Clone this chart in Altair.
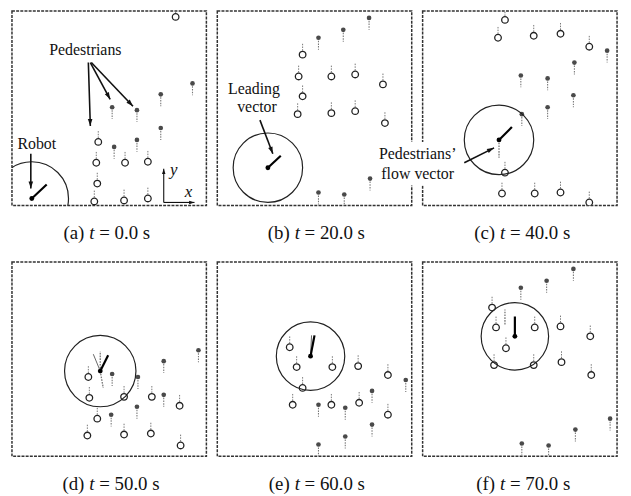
import altair as alt
import pandas as pd

W = 196
H = 196
SERIF = "Liberation Serif"

# ---------------- panel data (units: panel box = 196 x 196, y up) ----------------
# pedestrians walking +y (open circles) and -y (filled circles)
A_UP = [(165, 190), (87, 64), (85, 43), (114, 43), (137, 44), (86, 22), (83, 4), (113, 5), (137, 7)]
A_DOWN = [(182, 123), (150, 112), (101, 99), (126, 96), (150, 78), (126, 66), (103, 59)]
B_UP = [(86, 152), (82, 130), (115, 130), (139, 132), (167, 122), (86, 110), (81, 92), (115, 93), (139, 95), (169, 83)]
B_DOWN = [(153, 189), (127, 177), (102, 169), (154, 27), (102, 13), (128, 11)]
C_UP = [(83, 187), (76, 169), (112, 171), (139, 173), (168, 160), (83, 33), (80, 12), (113, 12), (139, 13), (168, 3)]
C_DOWN = [(186, 156), (153, 144), (99, 131), (126, 128), (152, 111), (126, 99), (100, 92)]
D_UP = [(77, 80), (78, 59), (113, 60), (141, 60), (169, 51), (86, 38), (76, 21), (113, 22), (140, 23), (170, 11)]
D_DOWN = [(188, 107), (153, 96), (101, 83), (127, 80), (153, 62), (126, 50), (100, 42)]
E_UP = [(73, 110), (80, 90), (116, 90), (142, 91), (172, 82), (86, 69), (76, 52), (115, 52), (143, 54), (172, 42)]
E_DOWN = [(190, 77), (156, 66), (102, 52), (129, 49), (156, 32), (129, 20), (102, 12)]
F_UP = [(70, 150), (74, 130), (113, 130), (139, 131), (169, 121), (84, 109), (72, 92), (112, 92), (140, 95), (170, 82)]
F_DOWN = [(152, 189), (125, 177), (99, 170), (189, 38), (154, 27), (100, 13), (127, 11)]

# robot position and sensing radius per panel
ROBOT = [(20, 7), (51, 38), (77, 66), (89, 86), (94, 101), (93, 121)]
SENSE_R = [37, 35, 35, 36, 34.5, 34]

# robot vectors (x, y, x2, y2, kind)
A_VEC = [(20, 7, 35, 21, "lead")]
B_VEC = [(51, 38, 64, 50, "lead")]
C_VEC = [(77, 66, 90, 79, "lead"), (77, 66, 77, 48, "flow")]
D_VEC = [(89, 86, 97, 102, "lead"), (89, 86, 82, 103, "other"), (89, 86, 89, 106, "flow"), (89, 86, 92, 69, "flow")]
E_VEC = [(94, 101, 98, 122, "lead"), (94, 101, 95, 122, "other")]
F_VEC = [(93, 121, 93, 141, "lead"), (83, 133, 83, 148, "flow")]

# annotations
A_TEXT = [(74, 157, "Pedestrians"), (25, 62, "Robot")]
A_ARROWS = [(77, 144, 79, 80), (79, 144, 99, 107), (80, 144, 122, 100), (19, 52, 19, 17)]
A_AXES = [(153, 3, 153, 37), (153, 3, 184, 3)]
A_AXLAB = [(163, 36, "y"), (178, 13, "x")]
B_TEXT = [(37, 117, "Leading"), (40, 99, "vector")]
B_ARROWS = [(43, 86, 56, 52)]
C_TEXT = [(-5, 52, "Pedestrians\u2019"), (-5, 32, "flow vector")]
C_ARROWS = [(42, 43, 72, 58)]
C_MASK = [(-48, 64, 38, 20)]

LETTERS = ["(a)", "(b)", "(c)", "(d)", "(e)", "(f)"]
TIMES = ["0.0", "20.0", "40.0", "50.0", "60.0", "70.0"]

ARROW_HEAD = "M0,0L-0.55,1.7L0.55,1.7Z"


def xq(f="x"):
    return alt.X(f"{f}:Q", scale=alt.Scale(domain=[0, W], nice=False, zero=False), axis=None)


def yq(f="y"):
    return alt.Y(f"{f}:Q", scale=alt.Scale(domain=[0, H], nice=False, zero=False), axis=None)


def arrow_layers(arrows, width=1.6, head=70):
    df = pd.DataFrame(arrows, columns=["x", "y", "x2", "y2"])
    base = alt.Chart(df)
    line = base.mark_rule(color="#111", strokeWidth=width).encode(
        x=xq(), y=yq(), x2=alt.X2("x2"), y2=alt.Y2("y2"))
    tip = base.transform_calculate(
        ang="(atan2(datum.x2 - datum.x, datum.y2 - datum.y) * 180 / PI + 360) % 360"
    ).mark_point(shape=ARROW_HEAD, filled=True, color="#111", size=head, opacity=1).encode(
        x=xq("x2"), y=yq("y2"), angle=alt.Angle("ang:Q", scale=None))
    return [line, tip]


def panel(i, up, down, vecs, texts=None, arrows=None, axes=None, axlab=None, mask=None):
    layers = []
    if mask:
        mdf = pd.DataFrame(mask, columns=["x", "y", "x2", "y2"])
        layers.append(alt.Chart(mdf).mark_rect(color="white", opacity=1).encode(
            x=xq(), x2=alt.X2("x2"), y=yq(), y2=alt.Y2("y2")))
    dup = pd.DataFrame(up, columns=["x", "y"])
    ddn = pd.DataFrame(down, columns=["x", "y"])
    layers.append(alt.Chart(dup).mark_rule(color="#777", strokeWidth=1, strokeDash=[1.5, 1.2],
                                           yOffset=-4, y2Offset=-12, clip=True).encode(
        x=xq(), y=yq(), y2=alt.Y2("y")))
    layers.append(alt.Chart(ddn).mark_rule(color="#777", strokeWidth=1.1, strokeDash=[1.5, 1.2],
                                           yOffset=3, y2Offset=12, clip=True).encode(
        x=xq(), y=yq(), y2=alt.Y2("y")))
    layers.append(alt.Chart(dup).mark_point(shape="circle", filled=True, fill="white", stroke="#222",
                                            strokeWidth=1.3, size=44, opacity=1, clip=True).encode(
        x=xq(), y=yq()))
    layers.append(alt.Chart(ddn).mark_point(shape="circle", filled=True, color="#4a4a4a",
                                            size=22, opacity=1, clip=True).encode(
        x=xq(), y=yq()))
    rdf = pd.DataFrame([ROBOT[i]], columns=["x", "y"])
    r = SENSE_R[i]
    layers.append(alt.Chart(rdf).mark_point(shape="circle", filled=False, stroke="#222", strokeWidth=1.2,
                                            size=(2 * r) ** 2, opacity=1, clip=True).encode(
        x=xq(), y=yq()))
    vdf = pd.DataFrame(vecs, columns=["x", "y", "x2", "y2", "kind"])
    styles = {
        "other": dict(color="#666", strokeWidth=1),
        "flow": dict(color="#777", strokeWidth=1.3, strokeDash=[1.6, 1.2]),
        "lead": dict(color="#000", strokeWidth=2.2),
    }
    for kind in ["other", "flow", "lead"]:
        sub = vdf[vdf["kind"] == kind]
        if len(sub):
            layers.append(alt.Chart(sub).mark_rule(**styles[kind]).encode(
                x=xq(), y=yq(), x2=alt.X2("x2"), y2=alt.Y2("y2")))
    layers.append(alt.Chart(rdf).mark_point(shape="circle", filled=True, color="#000",
                                            size=24, opacity=1).encode(x=xq(), y=yq()))
    if texts:
        tdf = pd.DataFrame(texts, columns=["x", "y", "label"])
        layers.append(alt.Chart(tdf).mark_text(font=SERIF, fontSize=16, color="#111").encode(
            x=xq(), y=yq(), text="label:N"))
    if arrows:
        layers += arrow_layers(arrows)
    if axes:
        layers += arrow_layers(axes, width=1.1, head=40)
    if axlab:
        ldf = pd.DataFrame(axlab, columns=["x", "y", "label"])
        layers.append(alt.Chart(ldf).mark_text(font=SERIF, fontSize=17, fontStyle="italic",
                                               color="#111").encode(x=xq(), y=yq(), text="label:N"))
    # caption "(a) t = 0.0 s"
    cdf = pd.DataFrame({"lab": [LETTERS[i]], "t": ["t"], "rest": ["=  " + TIMES[i] + " s"]})
    cx = W / 2
    L = cx - 25
    cap = alt.Chart(cdf)
    layers.append(cap.mark_text(font=SERIF, fontSize=19, align="right", baseline="middle", color="#111")
                  .encode(x=alt.value(L), y=alt.value(224), text="lab:N"))
    layers.append(cap.mark_text(font=SERIF, fontSize=19, fontStyle="italic", align="left",
                                baseline="middle", color="#111")
                  .encode(x=alt.value(L + 5), y=alt.value(224), text="t:N"))
    layers.append(cap.mark_text(font=SERIF, fontSize=19, align="left", baseline="middle", color="#111")
                  .encode(x=alt.value(L + 15), y=alt.value(224), text="rest:N"))
    return alt.layer(*layers).properties(width=W, height=H)


pa = panel(0, A_UP, A_DOWN, A_VEC, texts=A_TEXT, arrows=A_ARROWS, axes=A_AXES, axlab=A_AXLAB)
pb = panel(1, B_UP, B_DOWN, B_VEC, texts=B_TEXT, arrows=B_ARROWS)
pc = panel(2, C_UP, C_DOWN, C_VEC, texts=C_TEXT, arrows=C_ARROWS, mask=C_MASK)
pd_ = panel(3, D_UP, D_DOWN, D_VEC)
pe = panel(4, E_UP, E_DOWN, E_VEC)
pf = panel(5, F_UP, F_DOWN, F_VEC)

chart = alt.concat(pa, pb, pc, pd_, pe, pf, columns=3,
                   spacing={"row": 57, "column": 11}, bounds="flush").properties(
    padding={"left": 3, "top": 0, "right": 5, "bottom": 5}
).configure_view(
    stroke="#333", strokeWidth=1.5, strokeDash=[3, 1.2]
)

chart.save("out.html", embed_options={"renderer": "svg", "actions": False})
